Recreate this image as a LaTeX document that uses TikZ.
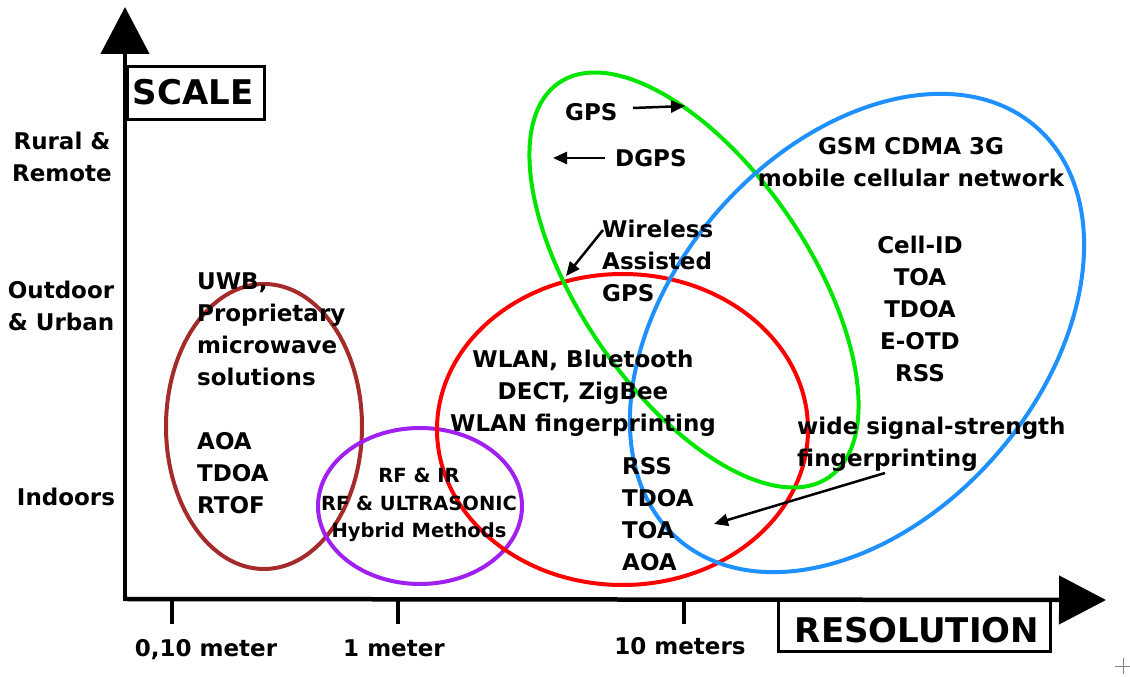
\documentclass[tikz,border=0pt]{standalone}
\usepackage{fontspec}
\setmainfont{DejaVu Sans}
\usetikzlibrary{arrows.meta}
\definecolor{ringbrown}{RGB}{165,42,42}
\definecolor{ringpurple}{RGB}{160,32,240}
\definecolor{ringred}{RGB}{255,0,0}
\definecolor{ringgreen}{RGB}{0,230,0}
\definecolor{ringblue}{RGB}{30,144,255}
\tikzset{
  lbl/.style={inner sep=0pt, font=\fontsize{23}{32}\selectfont\bfseries},
  small/.style={inner sep=0pt, font=\fontsize{19.5}{27.5}\selectfont\bfseries},
  title/.style={inner sep=0pt, font=\fontsize{34}{40}\selectfont\bfseries},
  ring/.style={line width=4pt},
  axis/.style={line width=4.5pt, -{Triangle[length=47pt,width=48pt]}},
  tick/.style={line width=3.5pt},
  frame/.style={draw, line width=3pt},
  pointer/.style={line width=2.5pt, -{Triangle[length=14pt,width=12pt]}}
}
\begin{document}
\begin{tikzpicture}[x=1pt,y=1pt]
\useasboundingbox (0,0) rectangle (1130,677);

% axes
\coordinate (origin) at (125,78);
\coordinate (xtip) at (1106,77);
\coordinate (ytip) at (125,670);
\draw[axis] (origin) -- (xtip);
\draw[axis] ([yshift=-2pt]origin) -- (ytip);

% ticks on the resolution axis
\foreach \tx/\nm in {172/ta,398/tb,684/tc}{
  \coordinate (\nm top) at (\tx,78);
  \coordinate (\nm bot) at (\tx,53);
  \draw[tick] (\nm top) -- (\nm bot);
}
\node[lbl] (t1) at (206,27) {0,10 meter};
\node[lbl] (t2) at (394,29) {1 meter};
\node[lbl] (t3) at (680,31) {10 meters};

% axis titles
\draw[frame] (127,557) rectangle (264,610);
\node[title] (scale) at (193,585) {SCALE};
\draw[frame] (778,25) rectangle (1050,76);
\node[title] (resolution) at (917,47) {RESOLUTION};

% scale levels
\node[lbl, align=center] (rural) at (62,520) {Rural \&\\Remote};
\node[lbl, align=center] (urban) at (61,371) {Outdoor\\\& Urban};
\node[lbl] (indoors) at (66,180) {Indoors};

% technology regions
\draw[ring, ringbrown] (264,250.5) ellipse[x radius=98pt, y radius=142.5pt];
\draw[ring, ringpurple] (420,171) ellipse[x radius=102pt, y radius=78pt];
\draw[ring, ringred] (622.5,247.5) ellipse[x radius=185.5pt, y radius=155.5pt];
\draw[ring, ringgreen, rotate around={-55.6:(694,397)}] (694,397) ellipse[x radius=239pt, y radius=114pt];
\draw[ring, ringblue, rotate around={49:(857,344)}] (857,344) ellipse[x radius=273pt, y radius=185pt];

% region contents
\node[lbl, align=left, anchor=west] (uwb) at (197,284)
  {UWB,\\Proprietary\\microwave\\solutions\\[32pt]AOA\\TDOA\\RTOF};
\node[small, align=center] (hybrid) at (419,172)
  {RF \& IR\\RF \& ULTRASONIC\\Hybrid Methods};
\node[lbl, align=center] (wlan) at (583,284)
  {WLAN, Bluetooth\\DECT, ZigBee\\WLAN fingerprinting};
\node[lbl, align=left, anchor=west] (wlanm) at (622,163)
  {RSS\\TDOA\\TOA\\AOA};
\node[lbl, anchor=west] (gps) at (565,565) {GPS};
\node[lbl, anchor=west] (dgps) at (615,519) {DGPS};
\node[lbl, align=left, anchor=west] (agps) at (602,416) {Wireless\\Assisted\\GPS};
\node[lbl, align=center] (gsm) at (911,515) {GSM CDMA 3G\\mobile cellular network};
\node[lbl, align=center] (cell) at (920,368) {Cell-ID\\TOA\\TDOA\\E-OTD\\RSS};
\node[lbl, align=left, anchor=west] (wide) at (797,233) {wide signal-strength\\fingerprinting};

% pointers
\coordinate (gpsA) at (633,569);  \coordinate (gpsB) at (685,571);
\coordinate (dgpsA) at (605,519); \coordinate (dgpsB) at (553,519);
\coordinate (agpsA) at (603,447); \coordinate (agpsB) at (566,401);
\coordinate (wideA) at (885,204); \coordinate (wideB) at (714,153);
\draw[pointer] (gpsA) -- (gpsB);
\draw[pointer] (dgpsA) -- (dgpsB);
\draw[pointer] (agpsA) -- (agpsB);
\draw[pointer] (wideA) -- (wideB);

% small cross mark
\coordinate (mk) at (1123,11);
\draw[gray, line width=0.8pt] ([xshift=-8pt]mk) -- ([xshift=8pt]mk)
  ([yshift=-8pt]mk) -- ([yshift=8pt]mk);
\end{tikzpicture}
\end{document}
